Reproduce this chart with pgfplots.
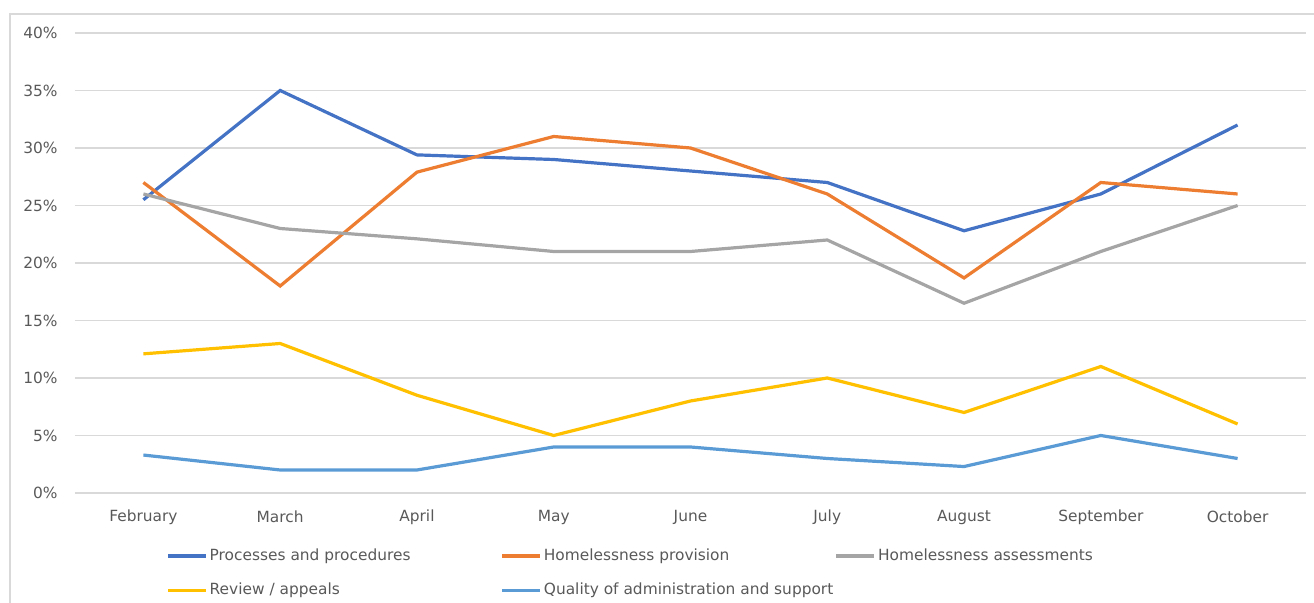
\documentclass[border=0pt]{standalone}
\usepackage{fontspec}
\setmainfont{DejaVu Sans}
\usepackage{pgfplots}
\pgfplotsset{compat=1.18}

\definecolor{procblue}{HTML}{4472C4}
\definecolor{provorange}{HTML}{ED7D31}
\definecolor{assgray}{HTML}{A5A5A5}
\definecolor{revyellow}{HTML}{FFC000}
\definecolor{qualblue}{HTML}{5B9BD5}
\definecolor{gridgray}{HTML}{D9D9D9}
\definecolor{textgray}{HTML}{595959}

\newcommand{\lbl}[1]{\makebox[146.5pt][l]{\hspace{1pt}#1}}

\begin{document}
\begin{tikzpicture}
\useasboundingbox (-37.5pt,-55pt) rectangle (619.5pt,246.5pt);
\draw[gridgray, line width=0.6pt] (-32.5pt,-65pt) rectangle (630pt,239.5pt);
\begin{axis}[
    at={(0,0)}, anchor=south west,
    scale only axis,
    width=615.5pt, height=230pt,
    xmin=-0.5, xmax=8.5,
    ymin=0, ymax=40,
    xtick={0,...,8},
    xticklabels={February,March,April,May,June,July,August,September,October},
    ytick={0,5,...,40},
    yticklabel={\pgfmathprintnumber{\tick}\%},
    /pgf/number format/assume math mode=true,
    axis line style={draw=none},
    tick style={draw=none},
    ymajorgrids=true,
    grid style={gridgray, line width=0.6pt},
    ticklabel style={font=\fontsize{7.7}{9}\selectfont, text=textgray, inner sep=0pt},
    yticklabel style={anchor=east, xshift=-8.5pt},
    xticklabel style={anchor=center, yshift=-12pt},
    legend columns=3,
    legend cell align=left,
    legend style={
        at={(axis description cs:0.074,-0.12)}, anchor=north west,
        draw=none, fill=none, inner sep=0pt,
        font=\fontsize{7.7}{9}\selectfont, text=textgray,
        nodes={inner sep=0pt},
        column sep=0pt, row sep=10pt,
    },
    legend image code/.code={\draw[#1] (0pt,0pt) -- (19pt,0pt);},
    every axis plot/.append style={line width=1.6pt, mark=none},
]
\addplot[procblue] coordinates {
    (0,25.5)(1,35)(2,29.4)(3,29)(4,28)(5,27)(6,22.8)(7,26)(8,32)};
\addlegendentry{\lbl{Processes and procedures}}
\addplot[provorange] coordinates {
    (0,27)(1,18)(2,27.9)(3,31)(4,30)(5,26)(6,18.7)(7,27)(8,26)};
\addlegendentry{\lbl{Homelessness provision}}
\addplot[assgray] coordinates {
    (0,26)(1,23)(2,22.1)(3,21)(4,21)(5,22)(6,16.5)(7,21)(8,25)};
\addlegendentry{\lbl{Homelessness assessments}}
\addplot[revyellow] coordinates {
    (0,12.1)(1,13)(2,8.5)(3,5)(4,8)(5,10)(6,7)(7,11)(8,6)};
\addlegendentry{\lbl{Review / appeals}}
\addplot[qualblue] coordinates {
    (0,3.3)(1,2)(2,2)(3,4)(4,4)(5,3)(6,2.3)(7,5)(8,3)};
\addlegendentry{\lbl{Quality of administration and support}}
\end{axis}
\end{tikzpicture}
\end{document}
